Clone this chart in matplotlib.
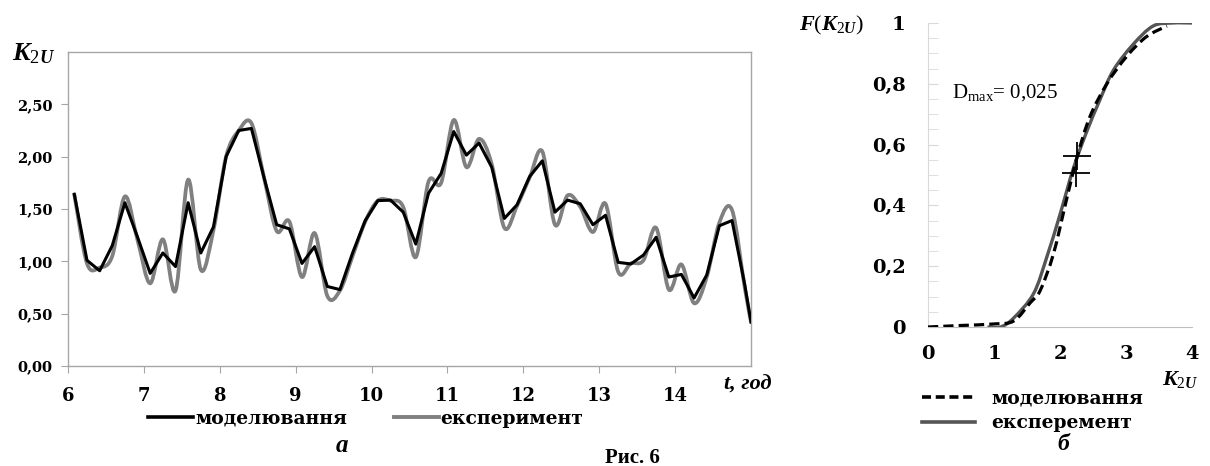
import numpy as np
import matplotlib

matplotlib.use("Agg")
import matplotlib.pyplot as plt
from matplotlib.path import Path
from matplotlib.patches import PathPatch
from matplotlib.lines import Line2D

plt.rcParams["font.family"] = ["Liberation Serif", "DejaVu Serif"]
plt.rcParams["mathtext.fontset"] = "custom"
plt.rcParams["mathtext.it"] = "Liberation Serif:italic:bold"
plt.rcParams["mathtext.rm"] = "Liberation Serif"
plt.rcParams["mathtext.bf"] = "Liberation Serif:bold"

# --- (а) K2U у часі, крок ~10 хв ---
t_hours = [6.083, 6.25, 6.417, 6.583, 6.75, 6.917, 7.083, 7.25, 7.417, 7.583,
           7.75, 7.917, 8.083, 8.25, 8.417, 8.583, 8.75, 8.917, 9.083, 9.25,
           9.417, 9.583, 9.75, 9.917, 10.083, 10.25, 10.417, 10.583, 10.75,
           10.917, 11.083, 11.25, 11.417, 11.583, 11.75, 11.917, 12.083,
           12.25, 12.417, 12.583, 12.75, 12.917, 13.083, 13.25, 13.417,
           13.583, 13.75, 13.917, 14.083, 14.25, 14.417, 14.583, 14.75,
           14.917, 15.0]
k2u_model = [1.64, 1.01, 0.91, 1.15, 1.56, 1.23, 0.885, 1.08, 0.95, 1.56,
             1.08, 1.33, 2.00, 2.25, 2.27, 1.80, 1.35, 1.31, 0.98, 1.14,
             0.76, 0.73, 1.08, 1.39, 1.58, 1.585, 1.47, 1.165, 1.65,
             1.84, 2.24, 2.015, 2.13, 1.90, 1.41, 1.54, 1.81,
             1.96, 1.47, 1.585, 1.55, 1.35, 1.44, 0.99, 0.975,
             1.06, 1.23, 0.85, 0.875, 0.65, 0.87, 1.34, 1.39,
             0.78, 0.42]
k2u_exper = [1.64, 0.98, 0.94, 1.05, 1.62, 1.20, 0.79, 1.21, 0.72, 1.78,
             0.92, 1.30, 2.00, 2.25, 2.32, 1.80, 1.29, 1.38, 0.85, 1.27,
             0.67, 0.72, 1.05, 1.38, 1.58, 1.58, 1.52, 1.04, 1.76,
             1.75, 2.35, 1.90, 2.17, 1.93, 1.32, 1.53, 1.80,
             2.05, 1.35, 1.63, 1.52, 1.28, 1.55, 0.90, 0.98,
             1.01, 1.32, 0.73, 0.97, 0.60, 0.85, 1.37, 1.49,
             0.75, 0.42]
x_ticks_a = [6, 7, 8, 9, 10, 11, 12, 13, 14]
y_ticks_a = [0.0, 0.5, 1.0, 1.5, 2.0, 2.5]
y_labels_a = ["0,00", "0,50", "1,00", "1,50", "2,00", "2,50"]

# --- (б) функції розподілу F(K2U) ---
cdf_model_x = [0.0, 0.5, 1.0, 1.3, 1.55, 1.70, 1.90, 2.10, 2.26, 2.45, 2.71,
               3.01, 3.31, 3.62]
cdf_model_y = [0.0, 0.005, 0.01, 0.02, 0.08, 0.12, 0.24, 0.42, 0.56, 0.69,
               0.80, 0.89, 0.955, 0.99]
cdf_exper_x = [0.9, 1.1, 1.3, 1.60, 1.80, 2.0, 2.20, 2.40, 2.61, 2.81, 3.11,
               3.41, 3.7, 4.0]
cdf_exper_y = [0.0, 0.0, 0.03, 0.11, 0.23, 0.37, 0.52, 0.64, 0.75, 0.845,
               0.93, 0.99, 1.0, 1.0]
dmax_points_x = [2.26, 2.24]
dmax_points_y = [0.5625, 0.507]
x_ticks_b = [0, 1, 2, 3, 4]
y_ticks_b = [0.0, 0.2, 0.4, 0.6, 0.8, 1.0]
y_labels_b = ["0", "0,2", "0,4", "0,6", "0,8", "1"]

W, H = 1210, 466
GRAY_AX = "#a6a6a6"
LIGHT = "#d9d9d9"
# широкий жирний шрифт — у оригіналі Times розтягнутий по горизонталі
BOLD = dict(family=["DejaVu Serif"], weight="bold")


def smooth_path(x, y):
    """Згладжена лінія як у Excel: кубічні Безьє через точки (Catmull-Rom)."""
    pts = np.column_stack([x, y])
    n = len(pts)
    verts, codes = [pts[0]], [Path.MOVETO]
    for i in range(n - 1):
        p0 = pts[i - 1] if i > 0 else pts[i]
        p1, p2 = pts[i], pts[i + 1]
        p3 = pts[i + 2] if i + 2 < n else pts[i + 1]
        verts += [p1 + (p2 - p0) / 6, p2 - (p3 - p1) / 6, p2]
        codes += [Path.CURVE4] * 3
    return Path(verts, codes)


def fx(px):
    return px / W


def fy(py):
    return 1 - py / H


fig = plt.figure(figsize=(W / 100, H / 100), dpi=100, facecolor="white")

# ---------------- (а) ----------------
ax1 = fig.add_axes([fx(68), fy(366), fx(751 - 68), (366 - 52) / H])
ax1.add_patch(PathPatch(smooth_path(t_hours, k2u_exper), fill=False,
                        edgecolor="#808080", linewidth=2.7, capstyle="round",
                        joinstyle="round", zorder=2))
ax1.plot(t_hours, k2u_model, color="black", linewidth=2.2,
         solid_joinstyle="round", zorder=3)
ax1.set_xlim(6, 15)
ax1.set_ylim(0, 3)
ax1.set_xticks(x_ticks_a)
ax1.set_xticklabels([str(v) for v in x_ticks_a], fontsize=13, **BOLD)
ax1.set_yticks(y_ticks_a)
ax1.set_yticklabels(y_labels_a, fontsize=10.5, **BOLD)
for s in ax1.spines.values():
    s.set_color(GRAY_AX)
    s.set_linewidth(1.0)
ax1.tick_params(axis="both", colors=GRAY_AX, length=5, labelcolor="black")
ax1.tick_params(axis="x", pad=10)
ax1.tick_params(axis="y", pad=6)

ax1.text(14.96, -0.08, "t, год", transform=ax1.transData, ha="center",
         va="top", fontsize=16, fontweight="bold", fontstyle="italic",
         clip_on=False)
fig.text(fx(12), fy(60), r"$\mathit{K_{2U}}$", fontsize=19, ha="left",
         va="baseline")

h_a = [Line2D([], [], color="black", linewidth=2.6),
       Line2D([], [], color="#808080", linewidth=2.8)]
fig.legend(h_a, ["моделювання", "експеримент"], loc="center left",
           bbox_to_anchor=(fx(148), fy(419)), ncol=2, frameon=False,
           borderpad=0, borderaxespad=0, handlelength=2.4, handletextpad=0.1,
           columnspacing=2.5, prop=dict(size=13.5, **BOLD))
fig.text(fx(342), fy(446), "а", fontsize=18, fontweight="bold",
         fontstyle="italic", ha="center", va="center")
fig.text(fx(632), fy(458), "Рис. 6", fontsize=15, fontweight="bold",
         ha="center", va="center")

# ---------------- (б) ----------------
ax2 = fig.add_axes([fx(928), fy(327), fx(1192 - 928), (327 - 23) / H])
ax2.add_patch(PathPatch(smooth_path(cdf_exper_x, cdf_exper_y), fill=False,
                        edgecolor="#555555", linewidth=2.4, zorder=2))
ax2.add_patch(PathPatch(smooth_path(cdf_model_x, cdf_model_y), fill=False,
                        edgecolor="black", linewidth=2.3,
                        linestyle=(0, (3.2, 1.6)), zorder=3))
ax2.plot(dmax_points_x, dmax_points_y, linestyle="none", marker="+",
         markersize=20, markeredgewidth=1.3, color="black", zorder=4)
ax2.set_xlim(0, 4)
ax2.set_ylim(0, 1)
ax2.set_xticks(x_ticks_b)
ax2.set_xticklabels([str(v) for v in x_ticks_b], fontsize=14, **BOLD)
ax2.set_yticks(y_ticks_b)
ax2.set_yticklabels(y_labels_b, fontsize=14, **BOLD)
ax2.set_yticks(np.arange(0, 1.0001, 0.05), minor=True)
for side in ("top", "right"):
    ax2.spines[side].set_visible(False)
ax2.spines["left"].set_color(LIGHT)
ax2.spines["bottom"].set_color("#bfbfbf")
ax2.tick_params(axis="x", length=0, pad=13)
ax2.tick_params(axis="y", which="both", direction="in", length=7,
                colors=LIGHT, labelcolor="black", pad=16)

ax2.text(0.36, 0.77, r"$\mathrm{D_{max}}$= 0,025", fontsize=15,
         ha="left", va="center")
fig.text(fx(864), fy(25), r"$\mathit{F(K_{2U})}$", fontsize=16, ha="right",
         va="center")
fig.text(fx(1180), fy(380), r"$\mathit{K_{2U}}$", fontsize=16, ha="center",
         va="center")

h_b = [Line2D([], [], color="black", linewidth=2.6, linestyle=(0, (2.5, 1.3))),
       Line2D([], [], color="#555555", linewidth=2.6)]
fig.legend(h_b, ["моделювання", "експеремент"], loc="center left",
           bbox_to_anchor=(fx(922), fy(411)), ncol=1, frameon=False,
           borderpad=0, borderaxespad=0, handlelength=2.8, handletextpad=0.9,
           labelspacing=0.35, prop=dict(size=13.5, **BOLD))
fig.text(fx(1063), fy(445), "б", fontsize=17, fontweight="bold",
         fontstyle="italic", ha="center", va="center")

fig.savefig("out.png", dpi=100, facecolor="white")
